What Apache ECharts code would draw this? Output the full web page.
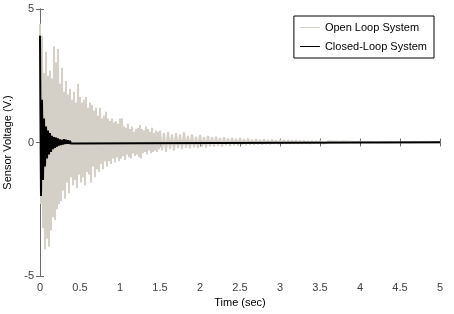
<!DOCTYPE html>
<html>
<head>
<meta charset="utf-8">
<script src="https://cdn.jsdelivr.net/npm/echarts@6/dist/echarts.min.js"></script>
<style>
  html, body { margin: 0; padding: 0; background: #fff; }
  #chart { width: 454px; height: 314px; }
</style>
</head>
<body>
<div id="chart"></div>
<script>
// tick labels
var xTicks = [0, 0.5, 1, 1.5, 2, 2.5, 3, 3.5, 4, 4.5, 5];
var yTicks = [-5, 0, 5];

// open loop: peaks, first part every 0.025 s
var openStepA = 0.025;
var openUpperA = [4.45, 4.0, 2.6, 3.4, 2.5, 2.7, 2.4, 3.6, 3.0, 3.5,
  2.2, 2.8, 1.9, 2.3, 1.8, 2.0, 1.6, 1.9, 1.5, 2.2,
  1.7, 1.5, 1.6, 1.7, 1.3, 1.5, 1.4, 1.2, 1.3, 1.0,
  1.3, 0.9, 1.0, 1.15, 0.9, 0.8, 0.9, 0.75, 0.8, 0.7,
  0.9, 0.9, 0.6, 0.55, 0.7, 0.5, 0.6, 0.4, 0.5, 0.55,
  0.65, 0.5, 0.45, 0.6, 0.5, 0.4, 0.55, 0.35, 0.45, 0.4];
var openLowerA = [-2.3, -3.2, -4.0, -3.6, -3.9, -3.3, -2.8, -2.9, -2.5, -2.3,
  -2.2, -1.8, -2.1, -1.5, -1.9, -1.3, -1.6, -1.4, -1.7, -1.2,
  -1.5, -1.3, -1.6, -1.1, -1.2, -1.5, -0.9, -1.3, -1.0, -1.1,
  -0.8, -1.0, -0.7, -0.9, -0.7, -0.8, -0.6, -0.75, -0.55, -0.7,
  -0.6, -0.5, -0.65, -0.45, -0.55, -0.6, -0.4, -0.5, -0.45, -0.55,
  -0.6, -0.4, -0.35, -0.45, -0.3, -0.4, -0.35, -0.3, -0.35, -0.25];

// open loop tail, from 1.5 s every 0.05 s
var openStartB = 1.5;
var openStepB = 0.05;
var openUpperB = [0.45, 0.35, 0.4, 0.3, 0.35, 0.3, 0.38, 0.25, 0.3, 0.22,
  0.28, 0.2, 0.25, 0.2, 0.22, 0.17, 0.2, 0.15, 0.18, 0.14,
  0.17, 0.12, 0.15, 0.11, 0.13, 0.1, 0.12, 0.09, 0.11, 0.08,
  0.1, 0.08, 0.09, 0.07, 0.08, 0.06, 0.07, 0.05, 0.06, 0.05,
  0.06, 0.04, 0.05, 0.04, 0.04, 0.03, 0.04, 0.03, 0.03, 0.02,
  0.03, 0.02, 0.02, 0.01];
var openLowerB = [-0.3, -0.35, -0.25, -0.3, -0.22, -0.25, -0.2, -0.22, -0.18, -0.2,
  -0.15, -0.18, -0.14, -0.15, -0.12, -0.14, -0.1, -0.12, -0.1, -0.11,
  -0.08, -0.1, -0.08, -0.09, -0.07, -0.08, -0.06, -0.07, -0.05, -0.06,
  -0.05, -0.05, -0.04, -0.05, -0.04, -0.04, -0.03, -0.04, -0.03, -0.03,
  -0.03, -0.03, -0.02, -0.03, -0.02, -0.02, -0.02, -0.02, -0.01, -0.02,
  -0.01, -0.01, -0.01, -0.01];

// closed loop: every 0.0125 s for the start, then flat
var closedStep = 0.0125;
var closedHead = [4.0, -2.0, 1.6, -1.4, 0.9, -0.9, 0.6, -0.6, 0.45, -0.45,
  0.35, -0.35, 0.25, -0.25, 0.2, -0.2, 0.18, -0.15, 0.15, -0.12,
  0.12, -0.1, 0.1, -0.08, 0.12, -0.06, 0.1, -0.05, 0.08, -0.05,
  0.06, -0.04];
var closedTailT = [0.4, 5];
var closedTailV = [0.01, 0.01];

// build the point lists
var openData = [];
var i;
for (i = 0; i < openUpperA.length; i++) {
  openData.push([i * openStepA, openUpperA[i]]);
  openData.push([i * openStepA + openStepA / 2, openLowerA[i]]);
}
for (i = 0; i < openUpperB.length; i++) {
  openData.push([openStartB + i * openStepB, openUpperB[i]]);
  openData.push([openStartB + i * openStepB + openStepB / 2, openLowerB[i]]);
}
openData.push([5, 0]);

var closedData = [];
for (i = 0; i < closedHead.length; i++) {
  closedData.push([i * closedStep, closedHead[i]]);
}
for (i = 0; i < closedTailT.length; i++) {
  closedData.push([closedTailT[i], closedTailV[i]]);
}

var axisGray = '#6b6b6b';
var font = '"Liberation Sans", Arial, sans-serif';

var myChart = echarts.init(document.getElementById('chart'), null, { renderer: 'canvas' });

myChart.setOption({
  animation: false,
  backgroundColor: '#fff',
  grid: { left: 40, right: 14, top: 9, bottom: 38, outerBoundsMode: 'none', containLabel: false },
  legend: {
    orient: 'vertical',
    right: 20,
    top: 16,
    padding: [6, 7, 6, 6],
    itemGap: 8,
    itemWidth: 20,
    itemHeight: 1,
    icon: 'rect',
    borderColor: '#000',
    borderWidth: 1,
    backgroundColor: '#fff',
    textStyle: { fontFamily: font, fontSize: 11, color: '#000' },
    data: ['Open Loop System', 'Closed-Loop System']
  },
  xAxis: [{
    type: 'value',
    min: 0, max: 5, interval: 0.5,
    name: 'Time (sec)',
    nameLocation: 'middle',
    nameGap: 21,
    nameTextStyle: { fontFamily: font, fontSize: 11, color: '#000' },
    axisLine: { lineStyle: { color: axisGray } },
    axisTick: { inside: true, length: 4, lineStyle: { color: axisGray } },
    axisLabel: {
      fontFamily: font, fontSize: 11, color: '#404040', margin: 6,
      formatter: function (v) { return String(v); }
    },
    splitLine: { show: false }
  }, {
    type: 'value',
    position: 'top',
    min: 0, max: 5, interval: 0.5,
    axisLine: { lineStyle: { color: axisGray } },
    axisTick: { inside: true, length: 4, lineStyle: { color: axisGray } },
    axisLabel: { show: false },
    splitLine: { show: false }
  }],
  yAxis: [{
    type: 'value',
    min: yTicks[0], max: yTicks[yTicks.length - 1], interval: 5,
    name: 'Sensor Voltage (V.)',
    nameLocation: 'middle',
    nameGap: 24,
    nameTextStyle: { fontFamily: font, fontSize: 11, color: '#000' },
    axisLine: { lineStyle: { color: axisGray } },
    axisTick: { inside: true, length: 4, lineStyle: { color: axisGray } },
    axisLabel: { fontFamily: font, fontSize: 11, color: '#404040', margin: 6 },
    splitLine: { show: false }
  }, {
    type: 'value',
    position: 'right',
    min: -5, max: 5, interval: 5,
    axisLine: { lineStyle: { color: axisGray } },
    axisTick: { inside: true, length: 4, lineStyle: { color: axisGray } },
    axisLabel: { show: false },
    splitLine: { show: false }
  }],
  series: [{
    name: 'Open Loop System',
    type: 'line',
    data: openData,
    showSymbol: false,
    symbol: 'none',
    color: '#d4d0c8',
    lineStyle: { width: 2, color: '#d4d0c8' },
    z: 2
  }, {
    name: 'Closed-Loop System',
    type: 'line',
    data: closedData,
    showSymbol: false,
    symbol: 'none',
    color: '#000',
    lineStyle: { width: 2, color: '#000' },
    z: 3
  }]
});
</script>
</body>
</html>
